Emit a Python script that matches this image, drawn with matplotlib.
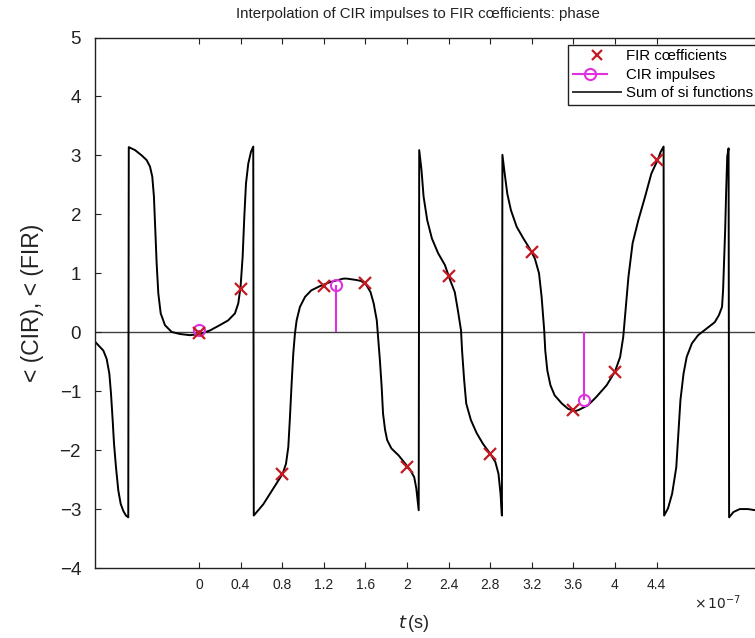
import numpy as np
import matplotlib.pyplot as plt
from matplotlib.lines import Line2D
from matplotlib.legend_handler import HandlerLine2D
from matplotlib.ticker import FuncFormatter

plt.rcParams['font.family'] = ['Liberation Sans', 'DejaVu Sans']

# time axis in units of 1e-7 s ------------------------------------
fir_t = [0.0, 0.4, 0.8, 1.2, 1.6, 2.0, 2.4, 2.8, 3.2, 3.6, 4.0, 4.4]
fir_phase = [-0.02, 0.73, -2.40, 0.79, 0.83, -2.29, 0.96, -2.06, 1.36, -1.32, -0.67, 2.92]

cir_t = [0.0, 1.32, 3.70]
cir_phase = [0.03, 0.80, -1.15]

# phase of the sum of si functions (wraps at +-pi)
sum_t = [-1.00, -0.968, -0.92, -0.888, -0.862, -0.846, -0.83, -0.817, -0.798, -0.776,
         -0.753, -0.728, -0.702, -0.68,
         -0.675, -0.615, -0.551, -0.503, -0.471, -0.449, -0.433, -0.42, -0.407, -0.391,
         -0.368, -0.327, -0.263, -0.183, -0.087, 0.01, 0.106, 0.20, 0.28, 0.346, 0.378,
         0.40, 0.42, 0.436, 0.452, 0.474, 0.50, 0.522,
         0.527, 0.57, 0.618, 0.683, 0.747, 0.805, 0.837, 0.859, 0.875, 0.891, 0.907,
         0.923, 0.939, 0.971, 1.02, 1.08, 1.16, 1.26, 1.39, 1.42, 1.50, 1.56, 1.61,
         1.65, 1.68, 1.71, 1.72, 1.74, 1.757, 1.77, 1.79, 1.81, 1.85, 1.92, 1.98,
         2.03, 2.07, 2.09, 2.113,
         2.118, 2.14, 2.16, 2.195, 2.24, 2.30, 2.365, 2.41, 2.46, 2.49, 2.52, 2.53,
         2.55, 2.57, 2.615, 2.67, 2.73, 2.80, 2.85, 2.88, 2.90, 2.913,
         2.918, 2.94, 2.965, 3.0, 3.055, 3.12, 3.18, 3.23, 3.27, 3.295, 3.32, 3.33,
         3.35, 3.38, 3.42, 3.49, 3.55, 3.615, 3.65, 3.74, 3.82, 3.92, 4.0, 4.05,
         4.08, 4.10, 4.13, 4.17, 4.225, 4.29, 4.35, 4.41, 4.44, 4.468,
         4.473, 4.51, 4.55, 4.59, 4.61, 4.63, 4.66, 4.69, 4.74, 4.80, 4.88, 4.96,
         5.0, 5.03, 5.04, 5.06, 5.07, 5.08, 5.093,
         5.098, 5.14, 5.20, 5.28, 5.35, 5.40]
sum_phase = [-0.16, -0.22, -0.31, -0.45, -0.70, -1.04, -1.49, -1.89, -2.29, -2.68,
             -2.91, -3.03, -3.11, -3.14,
             3.14, 3.09, 3.00, 2.92, 2.81, 2.64, 2.30, 1.73, 1.17, 0.66,
             0.32, 0.12, 0.005, -0.03, -0.05, -0.03, 0.03, 0.12, 0.20, 0.32, 0.49,
             0.77, 1.28, 1.96, 2.52, 2.86, 3.06, 3.15,
             -3.11, -3.02, -2.92, -2.74, -2.56, -2.40, -2.23, -1.95, -1.44, -0.87, -0.36,
             -0.02, 0.20, 0.43, 0.60, 0.71, 0.78, 0.85, 0.91, 0.91, 0.89, 0.87, 0.80,
             0.68, 0.49, 0.20, -0.02, -0.48, -0.93, -1.38, -1.66, -1.83, -1.97, -2.09, -2.22,
             -2.33, -2.46, -2.65, -3.02,
             3.09, 2.75, 2.30, 1.90, 1.59, 1.34, 1.14, 0.91, 0.68, 0.37, 0.03, -0.31,
             -0.81, -1.21, -1.49, -1.71, -1.89, -2.06, -2.20, -2.40, -2.74, -3.11,
             3.01, 2.69, 2.35, 2.07, 1.79, 1.59, 1.42, 1.25, 1.00, 0.60, 0.03, -0.31,
             -0.65, -0.90, -1.07, -1.21, -1.30, -1.34, -1.32, -1.24, -1.10, -0.90, -0.67, -0.42,
             -0.08, 0.32, 0.94, 1.51, 1.90, 2.30, 2.69, 2.92, 3.06, 3.15,
             -3.11, -2.99, -2.74, -2.29, -1.72, -1.15, -0.70, -0.42, -0.19, -0.05, 0.06, 0.17,
             0.29, 0.43, 0.71, 1.73, 2.41, 2.98, 3.12,
             -3.14, -3.05, -3.00, -3.00, -3.02, -3.03]

xticks = [0.0, 0.4, 0.8, 1.2, 1.6, 2.0, 2.4, 2.8, 3.2, 3.6, 4.0, 4.4]
yticks = [-4, -3, -2, -1, 0, 1, 2, 3, 4, 5]

red = '#c41a22'
mag = '#e030e0'


class StemHandler(HandlerLine2D):
    # marker near the right end of the legend line, like a stem
    def get_xdata(self, legend, xdescent, ydescent, width, height, fontsize):
        xdata = np.array([-xdescent, -xdescent + 0.72 * width])
        return xdata, np.array([-xdescent + 0.72 * width])


fig = plt.figure(figsize=(7.55, 6.38), dpi=100)
ax = fig.add_axes([0.1258, 0.1097, 0.8815, 0.8315])

ax.axhline(0, color='#404040', lw=1.0, zorder=1)
ax.plot(sum_t, sum_phase, color='black', lw=1.4, zorder=2)
ax.vlines(cir_t, 0, cir_phase, color=mag, lw=1.5, zorder=3)
ax.plot(cir_t, cir_phase, 'o', ms=8, mfc='none', mec=mag, mew=1.5, zorder=4)
ax.plot(fir_t, fir_phase, 'x', ms=8, color=red, mew=1.6, zorder=5)

ax.set_xlim(-1.0, 5.4)
ax.set_ylim(-4, 5)
ax.set_xticks(xticks)
ax.set_yticks(yticks)
ax.xaxis.set_major_formatter(FuncFormatter(lambda v, p: '%g' % v))
ax.tick_params(direction='in', length=4.5, width=0.8, top=True, right=True,
               colors='#222222')
ax.tick_params(axis='x', labelsize=10, pad=7)
ax.tick_params(axis='y', labelsize=13.5, pad=10)
for s in ax.spines.values():
    s.set_linewidth(1.0)
    s.set_color('#222222')

ax.set_ylabel('< (CIR), < (FIR)', fontsize=16.5, labelpad=11, color='#222222')
ax.set_xlabel(r'$t\,$(s)', fontsize=13, color='#222222')
ax.xaxis.set_label_coords(0.48, -0.085)
fig.text(0.982, 0.040, r'$\times\,10^{-7}$', ha='right', va='bottom', fontsize=10,
         color='#222222')
fig.text(418 / 755, 1 - 14 / 638, 'Interpolation of CIR impulses to FIR cœfficients: phase',
         ha='center', va='center', fontsize=10.8, color='#222222')

handles = [Line2D([], [], ls='none', marker='x', color=red, ms=7, mew=1.6),
           Line2D([], [], color=mag, lw=1.5, marker='o', ms=8, mfc='none', mec=mag, mew=1.5),
           Line2D([], [], color='#333333', lw=1.4)]
labels = ['FIR cœfficients', 'CIR impulses', 'Sum of si functions']
leg = ax.legend(handles, labels, loc='upper left', bbox_to_anchor=(0.711, 0.986),
                borderaxespad=0, fontsize=10.8, handlelength=3.2, handletextpad=0.35,
                labelspacing=0.3, borderpad=0.3, fancybox=False, framealpha=1,
                edgecolor='#222222', handler_map={handles[1]: StemHandler()})
leg.get_frame().set_linewidth(1.0)

fig.savefig('out.png', dpi=100)
